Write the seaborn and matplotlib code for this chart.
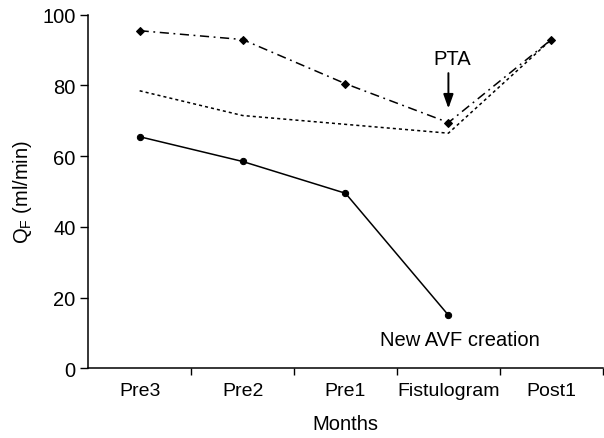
import pandas as pd
import matplotlib.pyplot as plt
import seaborn as sns

# Values
months = ['Pre3', 'Pre2', 'Pre1', 'Fistulogram', 'Post1']
pta_case = [95.5, 93.0, 80.5, 69.5, 93.0]        # dash-dot, diamonds
mean_case = [78.5, 71.5, 69.0, 66.5, 93.0]       # dotted, no markers
avf_case = [65.5, 58.5, 49.5, 15.0]              # solid, circles (ends at Fistulogram)
y_ticks = [0, 20, 40, 60, 80, 100]

sns.set_style('ticks')
plt.rcParams['font.family'] = ['Liberation Sans', 'DejaVu Sans']
for key in ['text.color', 'axes.labelcolor', 'xtick.color', 'ytick.color', 'axes.edgecolor']:
    plt.rcParams[key] = 'black'

pos = list(range(len(months)))
df_pta = pd.DataFrame({'x': pos, 'y': pta_case})
df_mean = pd.DataFrame({'x': pos, 'y': mean_case})
df_avf = pd.DataFrame({'x': pos[:len(avf_case)], 'y': avf_case})

fig = plt.figure(figsize=(6.04, 4.39), dpi=100)
ax = fig.add_axes([0.146, 0.159, 0.852, 0.805])

sns.lineplot(data=df_mean, x='x', y='y', ax=ax, color='black', lw=1.1,
             linestyle=(0, (2, 2)))
sns.lineplot(data=df_pta, x='x', y='y', ax=ax, color='black', lw=1.1,
             linestyle=(0, (6, 3, 1.2, 3)), marker='D', markersize=4.5,
             markeredgecolor='black')
sns.lineplot(data=df_avf, x='x', y='y', ax=ax, color='black', lw=1.1,
             marker='o', markersize=4.5, markeredgecolor='black')

# PTA arrow (vertical) and labels
ax.annotate('', xy=(3.0, 73.5), xytext=(3.0, 83.5),
            arrowprops=dict(arrowstyle='-|>,head_length=0.7,head_width=0.25',
                            color='black', lw=1.4, mutation_scale=12,
                            shrinkA=0, shrinkB=0))
ax.text(3.04, 87.5, 'PTA', ha='center', va='center', fontsize=14.5)
ax.text(3.11, 8, 'New AVF creation', ha='center', va='center', fontsize=14.5)

ax.set_xlim(-0.5, 4.5)
ax.set_ylim(0, 100)
ax.set_xticks(pos)
ax.set_xticklabels(months, fontsize=14)
ax.set_xticks([p + 0.5 for p in pos], minor=True)
ax.tick_params(axis='x', which='major', length=0, pad=10)
ax.tick_params(axis='x', which='minor', length=5, width=1, direction='out')
ax.set_yticks(y_ticks)
ax.tick_params(axis='y', labelsize=14.5, length=6, width=1, pad=3)
for s in ['top', 'right']:
    ax.spines[s].set_visible(False)
for s in ['left', 'bottom']:
    ax.spines[s].set_linewidth(1.1)

ax.set_xlabel('Months', fontsize=14.5, labelpad=11)
ax.set_ylabel('Q$_\\mathregular{F}$ (ml/min)', fontsize=14.5, labelpad=6)

fig.savefig('out.png', dpi=100)
